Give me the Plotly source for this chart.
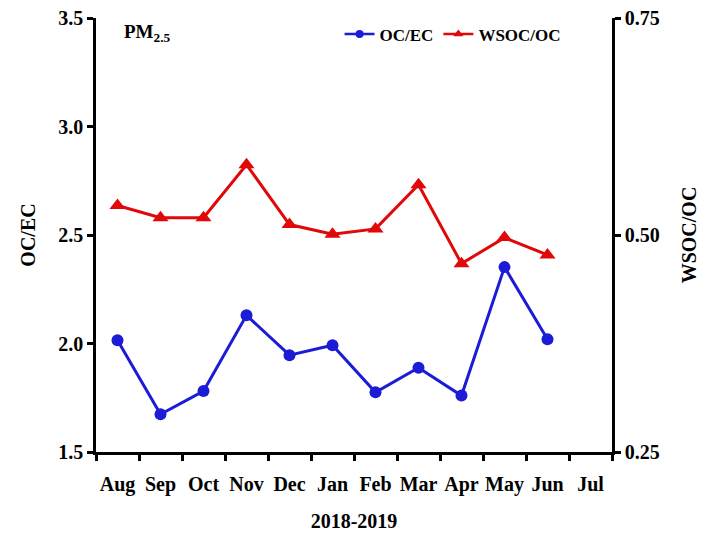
import plotly.graph_objects as go

# Monthly ratios, Aug 2018 - Jul 2019 (no sample for Jul)
months = ["Aug", "Sep", "Oct", "Nov", "Dec", "Jan", "Feb", "Mar", "Apr", "May", "Jun", "Jul"]
oc_ec = [2.015, 1.674, 1.781, 2.13, 1.946, 1.992, 1.775, 1.888, 1.76, 2.352, 2.02, None]
wsoc_oc = [0.534, 0.520, 0.520, 0.581, 0.512, 0.501, 0.507, 0.558, 0.467, 0.497, 0.477, None]

left_ticks = [1.5, 2.0, 2.5, 3.0, 3.5]
right_ticks = [0.25, 0.50, 0.75]

BLUE = "#1c1cd6"
RED = "#e00808"
FONT = "Liberation Serif"

fig = go.Figure()

fig.add_trace(go.Scatter(
    x=months, y=oc_ec, mode="lines+markers", name="OC/EC",
    line=dict(color=BLUE, width=3),
    marker=dict(symbol="circle", size=12, color=BLUE),
    showlegend=False, yaxis="y",
))
fig.add_trace(go.Scatter(
    x=months, y=wsoc_oc, mode="lines+markers", name="WSOC/OC",
    line=dict(color=RED, width=3),
    marker=dict(symbol="triangle-up", size=14, color=RED),
    showlegend=False, yaxis="y2",
))

# Legend entries with smaller symbols
fig.add_trace(go.Scatter(
    x=[None], y=[None], mode="lines+markers", name="OC/EC",
    line=dict(color=BLUE, width=2.5),
    marker=dict(symbol="circle", size=8, color=BLUE),
))
fig.add_trace(go.Scatter(
    x=[None], y=[None], mode="lines+markers", name="WSOC/OC",
    line=dict(color=RED, width=2.5),
    marker=dict(symbol="triangle-up", size=9, color=RED),
    yaxis="y2",
))

axis_common = dict(
    showgrid=False, zeroline=False, showline=True, automargin=False,
    linecolor="black", linewidth=2.5,
    ticks="outside", tickcolor="black", tickwidth=2.5, ticklen=6,
    tickfont=dict(family=FONT, size=20, color="black", weight="bold"),
)

fig.update_layout(
    width=712, height=544,
    margin=dict(l=96, r=100, t=18, b=92),
    paper_bgcolor="white", plot_bgcolor="white",
    font=dict(family=FONT, color="black"),
    xaxis=dict(
        **axis_common,
        type="category", categoryorder="array", categoryarray=months,
        range=[-0.5, 11.5], tickson="boundaries", tickangle=0,
        ticklabelstandoff=12,
        title=dict(text="2018-2019", standoff=20,
                   font=dict(family=FONT, size=20, color="black", weight="bold")),
    ),
    yaxis=dict(
        **axis_common,
        range=[1.5, 3.5], tickvals=left_ticks, tickformat=".1f",
        title=dict(text="OC/EC", standoff=18,
                   font=dict(family=FONT, size=20, color="black", weight="bold")),
    ),
    yaxis2=dict(
        **axis_common,
        overlaying="y", side="right",
        range=[0.25, 0.75], tickvals=right_ticks, tickformat=".2f",
        title=dict(text="WSOC/OC", standoff=24,
                   font=dict(family=FONT, size=20, color="black", weight="bold")),
    ),
    legend=dict(
        orientation="h", x=0.472, y=0.962, xanchor="left", yanchor="middle",
        bgcolor="rgba(0,0,0,0)",
        font=dict(family=FONT, size=17, color="black", weight="bold"),
        itemwidth=30,
    ),
    annotations=[dict(
        text="PM<sub>2.5</sub>", xref="paper", yref="paper",
        x=0.05, y=0.965, xanchor="left", yanchor="middle", showarrow=False,
        font=dict(family=FONT, size=19, color="black", weight="bold"),
    )],
)

fig.write_html("out.html")
